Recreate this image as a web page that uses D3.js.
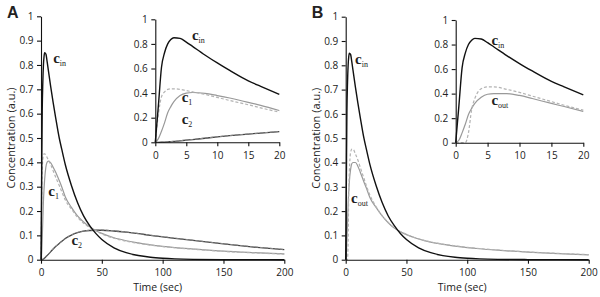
<!DOCTYPE html>
<html>
<head>
<meta charset="utf-8">
<script src="https://cdn.jsdelivr.net/npm/d3@7"></script>
<style>
  body { margin: 0; background: #fff; }
  svg text { font-family: "Open Sans", "Noto Sans", sans-serif; fill: #222; }
  .lbl { font-family: "Liberation Serif", "DejaVu Serif", serif; font-weight: bold; }
</style>
</head>
<body>
<svg id="chart" width="600" height="297"></svg>
<script>
// time points (sec)
const times = [0, 0.5, 1, 1.5, 2, 2.5, 3, 4, 5, 6, 8, 10, 12, 15, 17, 20, 25, 30, 35, 40, 45, 50, 60, 70, 80, 90, 100, 110, 125, 150, 175, 200];

// panel A
const cIn = [0, 0.3, 0.61, 0.73, 0.8, 0.835, 0.85, 0.845, 0.815, 0.78, 0.71, 0.645, 0.585, 0.5, 0.455, 0.39, 0.305, 0.235, 0.18, 0.14, 0.108, 0.083, 0.049, 0.029, 0.017, 0.01, 0.006, 0.0035, 0.0015, 0.0005, 0.0002, 0.0001];
const c1 = [0, 0.03, 0.09, 0.16, 0.24, 0.29, 0.33, 0.38, 0.4, 0.405, 0.398, 0.38, 0.36, 0.325, 0.3, 0.258, 0.215, 0.18, 0.155, 0.135, 0.12, 0.108, 0.09, 0.078, 0.069, 0.061, 0.055, 0.05, 0.044, 0.035, 0.029, 0.024];
const c1Model = [0, 0.23, 0.37, 0.41, 0.43, 0.435, 0.435, 0.43, 0.42, 0.41, 0.39, 0.365, 0.34, 0.305, 0.28, 0.245, 0.208, 0.175, 0.15, 0.132, 0.118, 0.106, 0.088, 0.076, 0.067, 0.06, 0.054, 0.049, 0.043, 0.034, 0.028, 0.023];
const c2 = [0, 0, 0.0005, 0.0015, 0.003, 0.005, 0.007, 0.012, 0.017, 0.022, 0.033, 0.044, 0.054, 0.067, 0.075, 0.087, 0.101, 0.111, 0.117, 0.12, 0.121, 0.121, 0.118, 0.113, 0.107, 0.1, 0.094, 0.088, 0.079, 0.065, 0.052, 0.041];
const c2Model = [0, 0, 0.001, 0.002, 0.004, 0.006, 0.008, 0.013, 0.018, 0.023, 0.034, 0.045, 0.055, 0.068, 0.076, 0.088, 0.102, 0.112, 0.118, 0.121, 0.122, 0.122, 0.119, 0.114, 0.108, 0.101, 0.095, 0.089, 0.08, 0.066, 0.053, 0.042];

// panel B
const cOut = [0, 0.02, 0.08, 0.15, 0.23, 0.28, 0.32, 0.37, 0.395, 0.4, 0.4, 0.385, 0.36, 0.32, 0.295, 0.255, 0.215, 0.18, 0.152, 0.13, 0.115, 0.103, 0.085, 0.072, 0.063, 0.056, 0.05, 0.045, 0.039, 0.031, 0.025, 0.02];
const cOutModel = [0, 0, 0, 0, 0.08, 0.27, 0.36, 0.44, 0.455, 0.455, 0.435, 0.41, 0.38, 0.335, 0.305, 0.265, 0.218, 0.181, 0.153, 0.131, 0.116, 0.104, 0.086, 0.073, 0.064, 0.057, 0.051, 0.046, 0.04, 0.032, 0.026, 0.021];

// ticks
const mainXTicks = [0, 50, 100, 150, 200];
const mainYTicks = [0, 0.1, 0.2, 0.3, 0.4, 0.5, 0.6, 0.7, 0.8, 0.9, 1];
const insetXTicks = [0, 5, 10, 15, 20];
const insetYTicks = [0, 0.2, 0.4, 0.6, 0.8, 1];

const svg = d3.select("#chart");

const styles = {
    input:  { color: "#111", width: 1.4 },
    data:   { color: "#999", width: 1.2 },
    model:  { color: "#b3b3b3", width: 1.2, dash: "3,2" },
    deep:   { color: "#444", width: 1.3 },
    deepM:  { color: "#8a8a8a", width: 1, dash: "3,2" }
};

function drawPlot(box, xMax, xTicks, yTicks, series, labels, opts) {
    const x = d3.scaleLinear().domain([0, xMax]).range([box.x0, box.x1]);
    const y = d3.scaleLinear().domain([0, 1]).range([box.y0, box.y1]);
    const g = svg.append("g");

    const line = vals => d3.line()
        .x(d => x(d[0]))
        .y(d => y(d[1]))
        .curve(d3.curveMonotoneX)(times.map((t, i) => [t, vals[i]]).filter(d => d[0] <= xMax));

    series.forEach(s => {
        g.append("path")
            .attr("d", line(s.values))
            .attr("fill", "none")
            .attr("stroke", s.style.color)
            .attr("stroke-width", s.style.width)
            .attr("stroke-dasharray", s.style.dash || null);
    });

    const xAxis = g.append("g")
        .attr("transform", `translate(0,${box.y0})`)
        .call(d3.axisBottom(x).tickValues(xTicks).tickSize(4).tickSizeOuter(0).tickPadding(opts.xPad).tickFormat(d => String(d)));
    const yAxis = g.append("g")
        .attr("transform", `translate(${box.x0},0)`)
        .call(d3.axisLeft(y).tickValues(yTicks).tickSize(4).tickSizeOuter(0).tickPadding(3.5).tickFormat(d => String(d)));
    [xAxis, yAxis].forEach(a => {
        a.selectAll("path, line").attr("stroke", "#111").attr("stroke-width", 1.1);
        a.selectAll("text").style("font-size", "10px").attr("fill", "#222");
    });

    labels.forEach(l => {
        const t = g.append("text").attr("class", "lbl")
            .attr("x", x(l.t)).attr("y", y(l.v))
            .style("font-size", "15px").attr("fill", "#222");
        t.append("tspan").text("c");
        t.append("tspan").text(l.sub).attr("dy", 3).style("font-size", "8px").style("font-weight", "normal");
    });
    return { x, y };
}

// panel A
const mainA = { x0: 41, x1: 284.3, y0: 259.7, y1: 16.3 };
drawPlot(mainA, 200, mainXTicks, mainYTicks, [
    { values: c2, style: styles.deep },
    { values: c2Model, style: styles.deepM },
    { values: c1, style: styles.data },
    { values: c1Model, style: styles.model },
    { values: cIn, style: styles.input }
], [
    { sub: "in", t: 10, v: 0.81 },
    { sub: "1", t: 6, v: 0.26 },
    { sub: "2", t: 25, v: 0.06 }
], { xPad: 5.5 });

drawPlot({ x0: 155.3, x1: 279.3, y0: 142.3, y1: 19.3 }, 20, insetXTicks, insetYTicks, [
    { values: c2, style: styles.deep },
    { values: c2Model, style: styles.deepM },
    { values: c1, style: styles.data },
    { values: c1Model, style: styles.model },
    { values: cIn, style: styles.input }
], [
    { sub: "in", t: 5.9, v: 0.83 },
    { sub: "1", t: 4.25, v: 0.33 },
    { sub: "2", t: 4.25, v: 0.15 }
], { xPad: 5.5 });

// panel B
const mainB = { x0: 345.7, x1: 588.7, y0: 259.7, y1: 16.7 };
drawPlot(mainB, 200, mainXTicks, mainYTicks, [
    { values: cOut, style: styles.data },
    { values: cOutModel, style: styles.model },
    { values: cIn, style: styles.input }
], [
    { sub: "in", t: 7.7, v: 0.805 },
    { sub: "out", t: 4.4, v: 0.235 }
], { xPad: 5.5 });

drawPlot({ x0: 455.7, x1: 583.3, y0: 142.7, y1: 20 }, 20, insetXTicks, insetYTicks, [
    { values: cOut, style: styles.data },
    { values: cOutModel, style: styles.model },
    { values: cIn, style: styles.input }
], [
    { sub: "in", t: 5.6, v: 0.8 },
    { sub: "out", t: 5.6, v: 0.31 }
], { xPad: 5.5 });

// axis titles and panel letters
[mainA, mainB].forEach((b, i) => {
    svg.append("text")
        .attr("transform", `translate(${b.x0 - 26},${(b.y0 + b.y1) / 2}) rotate(-90)`)
        .attr("text-anchor", "middle")
        .style("font-size", "11px")
        .text("Concentration (a.u.)");
    svg.append("text")
        .attr("x", (b.x0 + b.x1) / 2 - 5).attr("y", 291)
        .attr("text-anchor", "middle")
        .style("font-size", "10.5px")
        .text("Time (sec)");
    svg.append("text")
        .attr("x", b.x0 - 34).attr("y", 18)
        .style("font-size", "16px").style("font-weight", "bold")
        .style("font-family", "'Liberation Sans', Arial, sans-serif")
        .attr("fill", "#111")
        .text(["A", "B"][i]);
});
</script>
</body>
</html>
